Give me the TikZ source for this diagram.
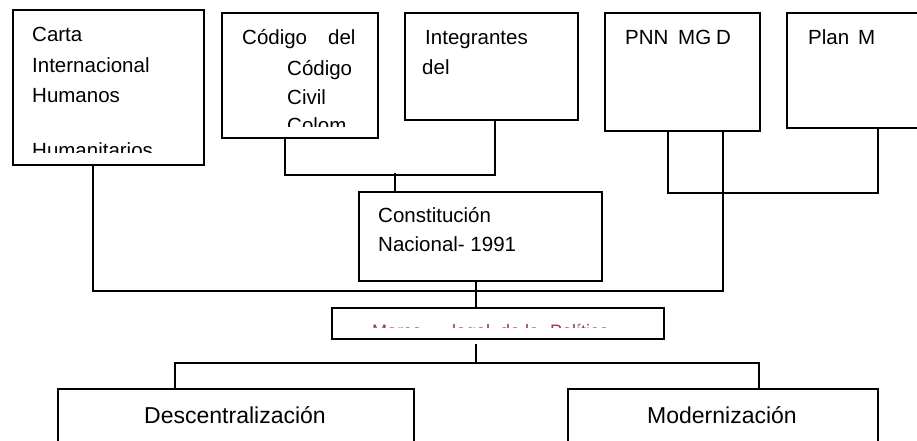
\documentclass[tikz,border=0pt]{standalone}
\usepackage{fontspec}
\setmainfont{Liberation Sans}
\definecolor{marcocol}{RGB}{153,51,102}
\begin{document}
\begin{tikzpicture}[x=1bp,y=-1bp,
  box/.style={draw,line width=1.8bp,rectangle,inner sep=0pt,anchor=north west},
  conn/.style={line width=1.8bp},
  lbl/.style={anchor=base west,inner sep=0pt,font=\fontsize{20.5bp}{24bp}\selectfont},
  big/.style={anchor=base,inner sep=0pt,font=\fontsize{23bp}{27bp}\selectfont},
  mlbl/.style={anchor=base west,inner sep=0pt,text=marcocol,font=\fontsize{18bp}{21bp}\selectfont}]
\useasboundingbox (0,0) rectangle (917,441);
\clip (0,0) rectangle (917,441);
% boxes
\node[box,minimum width=191bp,minimum height=155bp] (carta) at (12,9) {};
\node[box,minimum width=156bp,minimum height=125bp] (codigo) at (221,12) {};
\node[box,minimum width=173bp,minimum height=107bp] (integ) at (404,12) {};
\node[box,minimum width=155bp,minimum height=118bp] (pnn) at (604,12) {};
\node[box,minimum width=149bp,minimum height=115bp] (plan) at (786,12) {};
\node[box,minimum width=243bp,minimum height=89bp] (const) at (358,191) {};
\node[box,minimum width=332bp,minimum height=31bp] (marco) at (331,307) {};
\node[box,minimum width=356bp,minimum height=53bp] (desc) at (57,388) {};
\node[box,minimum width=310bp,minimum height=53bp] (modern) at (567,388) {};
% texts
\node[lbl] (t1) at (32,41.7) {Carta};
\node[lbl] (t2) at (32,72.7) {Internacional};
\node[lbl] (t3) at (32,102.7) {Humanos};
\begin{scope}
\clip (12,9) rectangle (203,153);
\node[lbl] (t4) at (32,158) {Humanitarios};
\end{scope}
\node[lbl] (c1) at (242,45) {Código};
\node[lbl] (c2) at (328,45) {del};
\node[lbl] (c3) at (287,76) {Código};
\node[lbl] (c4) at (287,105) {Civil};
\begin{scope}
\clip (221,12) rectangle (377,127);
\node[lbl] (c5) at (287,133) {Colom};
\end{scope}
\node[lbl] (i1) at (425,45) {Integrantes};
\node[lbl] (i2) at (422,75) {del};
\node[lbl] (p1) at (625,45) {PNN};
\node[lbl] (p2) at (678,45) {MG};
\node[lbl] (p3) at (716,45) {D};
\node[lbl] (q1) at (808,45) {Plan};
\node[lbl] (q2) at (858,45) {M};
\node[lbl] (k1) at (378,223) {Constitución};
\node[lbl] (k2) at (378,252) {Nacional- 1991};
\begin{scope}
\clip (331,307) rectangle (663,328);
\node[mlbl] (m1) at (372,338) {Marco};
\node[mlbl] (m2) at (452,338) {legal};
\node[mlbl] (m3) at (500,338) {de la};
\node[mlbl] (m4) at (550,338) {Política};
\end{scope}
\node[big] (d1) at (235,423) {Descentralización};
\node[big] (d2) at (722,423) {Modernización};
% connectors
\draw[conn] ([xshift=64bp]codigo.south west) -- ++(0,36) -| ([xshift=91bp]integ.south west);
\draw[conn] ([xshift=37bp]const.north west) -- ++(0,-18);
\draw[conn] ([xshift=81bp]carta.south west) -- ++(0,125) -| ([xshift=119bp]pnn.south west);
\draw[conn] ([xshift=64bp]pnn.south west) -- ++(0,61) -| ([xshift=92bp]plan.south west);
\draw[conn] ([xshift=118bp]const.south west) -- ([xshift=145bp]marco.north west);
\draw[conn] ([xshift=145bp,yshift=-4bp]marco.south west) -- ([xshift=145bp,yshift=-23bp]marco.south west);
\draw[conn] ([xshift=118bp]desc.north west) |- ([xshift=145bp,yshift=-23bp]marco.south west) -| ([xshift=192bp]modern.north west);
\end{tikzpicture}
\end{document}
